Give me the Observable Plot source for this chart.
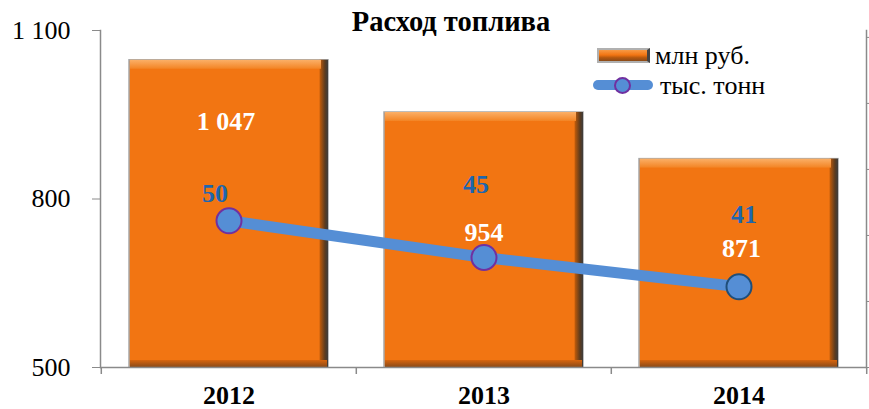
<!DOCTYPE html>
<html>
<head>
<meta charset="utf-8">
<script src="https://cdn.jsdelivr.net/npm/d3@7"></script>
<script src="https://cdn.jsdelivr.net/npm/@observablehq/plot@0.6"></script>
<style>
  html, body { margin: 0; padding: 0; background: #fff; }
  #wrap { position: relative; width: 869px; height: 409px; font-family: "Liberation Serif", "Times New Roman", serif; }
  #title { position: absolute; left: 0; top: 8px; width: 902px; text-align: center; font-size: 28.5px; line-height: 28.5px; font-weight: bold; color: #000; }
  .lg { position: absolute; font-size: 26px; line-height: 26px; color: #000; white-space: nowrap; }
  #swBar { position: absolute; left: 597px; top: 48px; width: 48px; height: 11px;
    background: linear-gradient(#F79A45, #F27512 45%, #B5580E 70%, #8A4A18);
    border: 2px solid #b0b0b0; border-right: 3px solid #444; }
  #swLine { position: absolute; left: 593px; top: 80px; width: 60px; height: 10px; border-radius: 5px; background: #558ED5; }
  #swDot { position: absolute; left: 614px; top: 77px; width: 13px; height: 13px; border-radius: 50%; background: #558ED5; border: 2px solid #7030A0; }
  svg { position: absolute; left: 0; top: 0; }
</style>
</head>
<body>
<div id="wrap"></div>
<script>
// ---- data ----
const years = ["2012", "2013", "2014"];
const rubles = [1047, 954, 871];          // млн руб.
const tonnes = [50, 45, 41];              // тыс. тонн
const yTicks = [500, 800, 1100];
const y2Ticks = [30, 39, 48, 57, 66, 75];
const y2Domain = [30, 75.94];
const yDomain = [500, 1100];
const titleText = "Расход топлива";
const seriesNames = ["млн руб.", "тыс. тонн"];

const data = years.map((year, i) => ({year, rub: rubles[i], t: tonnes[i]}));
const sec = d3.scaleLinear(y2Domain, yDomain); // secondary axis -> primary units
const fmt = v => d3.format(",")(v).replace(/,/g, " ");

const ORANGE = "#F27512";
const BLUE = "#558ED5";
const LBLUE = "#1E66AE";
const AXIS = "#8a8a8a";
const FS = 26;

const barLabel = (yr, dx, dy) => Plot.text(data, {
  filter: d => d.year === yr, x: "year", y: "rub", text: d => fmt(d.rub),
  dx, dy, fill: "white", fontWeight: "bold", fontSize: FS
});
const lineLabel = (yr, dx, dy) => Plot.text(data, {
  filter: d => d.year === yr, x: "year", y: d => sec(d.t), text: d => String(d.t),
  dx, dy, fill: LBLUE, fontWeight: "bold", fontSize: FS
});

const chart = Plot.plot({
  width: 869,
  height: 409,
  marginLeft: 100,
  marginRight: 3,
  marginTop: 30,
  marginBottom: 42,
  style: {fontFamily: "'Liberation Serif', 'Times New Roman', serif", fontSize: FS + "px", background: "transparent", overflow: "visible"},
  x: {domain: years, paddingInner: 0.22, paddingOuter: 0.11},
  y: {domain: yDomain},
  color: {type: "identity"},
  marks: [
    // bars with bevel
    Plot.barY(data, {x: "year", y1: 500, y2: "rub", fill: ORANGE, stroke: "#a8a8a8", strokeWidth: 1.5}),
    Plot.barY(data, {x: "year", y1: 500, y2: "rub", fill: "url(#bevelRight)"}),
    Plot.barY(data, {x: "year", y1: "rub", y2: "rub", insetBottom: -9, insetLeft: 1, insetRight: 7, fill: "url(#bevelTop)"}),
    Plot.barY(data, {x: "year", y1: 500, y2: 500, insetTop: -7, insetLeft: 1, insetRight: 1, fill: "url(#bevelBot)"}),
    // axes lines
    Plot.frame({anchor: "left", stroke: AXIS, strokeWidth: 1.5}),
    Plot.frame({anchor: "right", stroke: AXIS, strokeWidth: 1.5}),
    Plot.ruleY([500], {stroke: AXIS, strokeWidth: 1.5}),
    Plot.axisY({ticks: yTicks, tickFormat: fmt, tickSize: 8, tickPadding: 22, fontSize: FS, stroke: AXIS, label: null}),
    Plot.axisY({anchor: "right", ticks: y2Ticks.map(v => sec(v)), tickFormat: () => "", tickSize: 5, stroke: AXIS, label: null}),
    Plot.axisX({tickSize: 0, tickPadding: 18, fontSize: FS, fontWeight: "bold", label: null}),
    Plot.ruleX(years, {x: d => d, y1: 500, y2: 500, insetBottom: -7, dx: -127.7, stroke: AXIS, strokeWidth: 1.5}),
    Plot.ruleX(years.slice(-1), {x: d => d, y1: 500, y2: 500, insetBottom: -7, dx: 127.7, stroke: AXIS, strokeWidth: 1.5}),
    // line series (secondary axis)
    Plot.line(data, {x: "year", y: d => sec(d.t), stroke: BLUE, strokeWidth: 11}),
    Plot.dot(data, {x: "year", y: d => sec(d.t), r: 12.5, fill: BLUE, stroke: (d, i) => i === 2 ? "#1F4E79" : "#7030A0", strokeWidth: 2}),
    // labels
    barLabel("2012", -3, 61),
    barLabel("2013", 0, 120),
    barLabel("2014", 2.5, 90),
    lineLabel("2012", -14, -27),
    lineLabel("2013", -8, -73),
    lineLabel("2014", 5, -72)
  ]
});

// gradient defs for bevel effect
const defs = d3.select(chart).insert("defs", ":first-child");
const gR = defs.append("linearGradient").attr("id", "bevelRight").attr("x1", 0).attr("x2", 1).attr("y1", 0).attr("y2", 0);
[[0, "#000", 0], [0.955, "#B4570C", 0], [0.962, "#B4570C", 1], [0.985, "#5b3b1f", 1], [1, "#3d3d3d", 1]]
  .forEach(([o, c, a]) => gR.append("stop").attr("offset", o).attr("stop-color", c).attr("stop-opacity", a));
const gT = defs.append("linearGradient").attr("id", "bevelTop").attr("x1", 0).attr("x2", 0).attr("y1", 0).attr("y2", 1);
[[0, "#FBB068"], [1, "#F38424"]].forEach(([o, c]) => gT.append("stop").attr("offset", o).attr("stop-color", c));
const gB = defs.append("linearGradient").attr("id", "bevelBot").attr("x1", 0).attr("x2", 0).attr("y1", 0).attr("y2", 1);
[[0, "#D8650E"], [1, "#8A4A18"]].forEach(([o, c]) => gB.append("stop").attr("offset", o).attr("stop-color", c));

const wrap = document.getElementById("wrap");
wrap.appendChild(chart);

const t = document.createElement("div");
t.id = "title"; t.textContent = titleText; wrap.appendChild(t);

const addDiv = (id) => { const d = document.createElement("div"); d.id = id; wrap.appendChild(d); return d; };
addDiv("swBar");
addDiv("swLine");
addDiv("swDot");
const l1 = document.createElement("div"); l1.className = "lg"; l1.style.left = "655px"; l1.style.top = "43px"; l1.textContent = seriesNames[0]; wrap.appendChild(l1);
const l2 = document.createElement("div"); l2.className = "lg"; l2.style.left = "660px"; l2.style.top = "73px"; l2.textContent = seriesNames[1]; wrap.appendChild(l2);
</script>
</body>
</html>
